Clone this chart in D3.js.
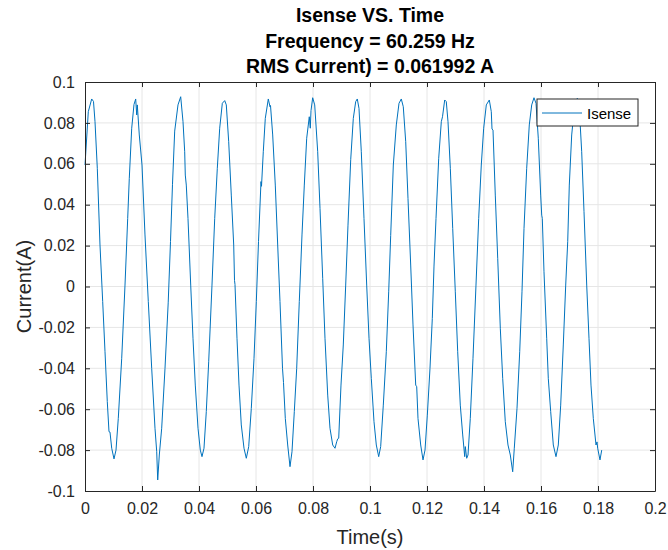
<!DOCTYPE html>
<html>
<head>
<meta charset="utf-8">
<script src="https://cdn.jsdelivr.net/npm/d3@7"></script>
<style>
  body { margin: 0; background: #fff; }
  svg { font-family: "Liberation Sans", Arial, Helvetica, sans-serif; }
</style>
</head>
<body>
<svg id="chart" width="668" height="550"></svg>
<script>
// samples
const timeS = [
  0, 0.00116, 0.00235, 0.00298, 0.00351, 0.00432, 0.00526, 0.00621, 0.00702, 0.00782,
  0.00842, 0.00877, 0.00937, 0.01018, 0.01088, 0.01168, 0.01288, 0.01404, 0.01498, 0.01554,
  0.01639, 0.01719, 0.01779, 0.01814, 0.01835, 0.01905, 0.02000, 0.02105, 0.02221, 0.02340,
  0.02456, 0.02516, 0.02551, 0.02607, 0.02691, 0.02807, 0.02919, 0.03000, 0.03070, 0.03147,
  0.03263, 0.03358, 0.03439, 0.03498, 0.03519, 0.03554, 0.03614, 0.03709, 0.03789, 0.03870,
  0.03965, 0.04046, 0.04105, 0.04175, 0.04256, 0.04340, 0.04456, 0.04551, 0.04642, 0.04726,
  0.04818, 0.04902, 0.04958, 0.05042, 0.05133, 0.05218, 0.05246, 0.05263, 0.05333, 0.05404,
  0.05484, 0.05579, 0.05660, 0.05744, 0.05835, 0.05930, 0.06011, 0.06088, 0.06175, 0.06193,
  0.06256, 0.06326, 0.06432, 0.06491, 0.06509, 0.06586, 0.06677, 0.06761, 0.06842, 0.06930,
  0.06965, 0.07028, 0.07112, 0.07193, 0.07263, 0.07344, 0.07428, 0.07519, 0.07614, 0.07695,
  0.07779, 0.07870, 0.07905, 0.07930, 0.07989, 0.08060, 0.08165, 0.08246, 0.08340, 0.08421,
  0.08516, 0.08596, 0.08691, 0.08772, 0.08832, 0.08867, 0.08902, 0.08982, 0.09063, 0.09147,
  0.09228, 0.09323, 0.09414, 0.09498, 0.09554, 0.09614, 0.09695, 0.09789, 0.09884, 0.09965,
  0.10046, 0.10140, 0.10221, 0.10305, 0.10375, 0.10467, 0.10572, 0.10656, 0.10726, 0.10818,
  0.10923, 0.11018, 0.11098, 0.11168, 0.11253, 0.11333, 0.11428, 0.11509, 0.11604, 0.11639,
  0.11684, 0.11779, 0.11860, 0.11930, 0.12011, 0.12105, 0.12186, 0.12246, 0.12316, 0.12411,
  0.12502, 0.12544, 0.12621, 0.12677, 0.12737, 0.12818, 0.12902, 0.12993, 0.13077, 0.13168,
  0.13253, 0.13323, 0.13344, 0.13393, 0.13439, 0.13519, 0.13614, 0.13719, 0.13814, 0.13905,
  0.13989, 0.14081, 0.14186, 0.14256, 0.14281, 0.14316, 0.14396, 0.14481, 0.14572, 0.14656,
  0.14747, 0.14842, 0.14923, 0.15007, 0.15063, 0.15158, 0.15253, 0.15333, 0.15404, 0.15498,
  0.15589, 0.15674, 0.15754, 0.15825, 0.15905, 0.15989, 0.16025, 0.16046, 0.16105, 0.16200,
  0.16256, 0.16340, 0.16432, 0.16526, 0.16607, 0.16691, 0.16782, 0.16867, 0.16937, 0.16993,
  0.17077, 0.17168, 0.17274, 0.17344, 0.17428, 0.17509, 0.17604, 0.17684, 0.17754, 0.17835,
  0.17930, 0.17965, 0.17989, 0.18070, 0.18130
];
const currentA = [
  0.0594, 0.0855, 0.0917, 0.0905, 0.0806, 0.0578, 0.0203, -0.0074, -0.0319, -0.0563,
  -0.0710, -0.0712, -0.0791, -0.0843, -0.0800, -0.0645, -0.0351, 0.0007, 0.0333, 0.0529,
  0.0774, 0.0890, 0.0917, 0.0839, 0.0888, 0.0741, 0.0594, 0.0252, -0.0074, -0.0400,
  -0.0693, -0.0808, -0.0946, -0.0824, -0.0693, -0.0400, -0.0080, 0.0220, 0.0500, 0.0760,
  0.0888, 0.0928, 0.0806, 0.0659, 0.0545, 0.0496, 0.0333, 0.0007, -0.0253, -0.0482,
  -0.0693, -0.0800, -0.0832, -0.0791, -0.0612, -0.0368, 0.0007, 0.0333, 0.0578, 0.0774,
  0.0896, 0.0909, 0.0888, 0.0708, 0.0447, 0.0203, 0.0030, 0.0010, -0.0253, -0.0482,
  -0.0677, -0.0791, -0.0840, -0.0783, -0.0596, -0.0351, -0.0074, 0.0220, 0.0513, 0.0490,
  0.0659, 0.0822, 0.0917, 0.0879, 0.0885, 0.0741, 0.0496, 0.0203, -0.0074, -0.0400,
  -0.0470, -0.0645, -0.0775, -0.0881, -0.0808, -0.0612, -0.0400, -0.0074, 0.0252, 0.0496,
  0.0725, 0.0830, 0.0774, 0.0860, 0.0923, 0.0888, 0.0659, 0.0382, 0.0040, -0.0253,
  -0.0531, -0.0693, -0.0775, -0.0791, -0.0759, -0.0745, -0.0742, -0.0482, -0.0286, 0.0007,
  0.0300, 0.0620, 0.0822, 0.0904, 0.0917, 0.0871, 0.0659, 0.0333, 0.0007, -0.0253,
  -0.0449, -0.0661, -0.0775, -0.0832, -0.0783, -0.0580, -0.0319, -0.0026, 0.0250, 0.0594,
  0.0790, 0.0896, 0.0917, 0.0879, 0.0708, 0.0431, 0.0105, -0.0188, -0.0482, -0.0490,
  -0.0645, -0.0775, -0.0848, -0.0800, -0.0629, -0.0400, -0.0156, 0.0100, 0.0333, 0.0627,
  0.0806, 0.0830, 0.0912, 0.0904, 0.0806, 0.0578, 0.0284, -0.0026, -0.0319, -0.0580,
  -0.0726, -0.0832, -0.0783, -0.0840, -0.0824, -0.0645, -0.0351, 0.0007, 0.0333, 0.0594,
  0.0774, 0.0888, 0.0912, 0.0855, 0.0770, 0.0765, 0.0447, 0.0138, -0.0204, -0.0449,
  -0.0661, -0.0775, -0.0824, -0.0906, -0.0791, -0.0596, -0.0319, -0.0026, 0.0284, 0.0578,
  0.0790, 0.0888, 0.0923, 0.0896, 0.0725, 0.0447, 0.0349, 0.0333, 0.0072, -0.0253,
  -0.0449, -0.0612, -0.0775, -0.0832, -0.0775, -0.0580, -0.0286, 0.0007, 0.0219, 0.0496,
  0.0741, 0.0871, 0.0920, 0.0871, 0.0659, 0.0366, 0.0007, -0.0253, -0.0482, -0.0645,
  -0.0775, -0.0760, -0.0791, -0.0848, -0.0800
];
const xTicks = [0, 0.02, 0.04, 0.06, 0.08, 0.1, 0.12, 0.14, 0.16, 0.18, 0.2];
const yTicks = [-0.1, -0.08, -0.06, -0.04, -0.02, 0, 0.02, 0.04, 0.06, 0.08, 0.1];
const titleLines = ['Isense VS. Time', 'Frequency = 60.259 Hz', 'RMS Current) = 0.061992 A'];
const seriesName = 'Isense';

const svg = d3.select('#chart');
const plotL = 85, plotR = 655, plotT = 82, plotB = 491;
const axisColor = '#262626';
const lineColor = '#0072BD';

const x = d3.scaleLinear().domain([0, 0.2]).range([plotL, plotR]);
const y = d3.scaleLinear().domain([-0.1, 0.1]).range([plotB, plotT]);

// grid
svg.append('g').selectAll('line').data(xTicks.slice(1, -1)).join('line')
  .attr('x1', d => x(d)).attr('x2', d => x(d))
  .attr('y1', plotT).attr('y2', plotB)
  .attr('stroke', '#e6e6e6').attr('stroke-width', 1);
svg.append('g').selectAll('line').data(yTicks.slice(1, -1)).join('line')
  .attr('x1', plotL).attr('x2', plotR)
  .attr('y1', d => y(d)).attr('y2', d => y(d))
  .attr('stroke', '#e6e6e6').attr('stroke-width', 1);

// trace
const points = timeS.map((t, i) => [t, currentA[i]]);
svg.append('path')
  .datum(points)
  .attr('fill', 'none')
  .attr('stroke', lineColor)
  .attr('stroke-width', 1)
  .attr('stroke-linejoin', 'round')
  .attr('d', d3.line().x(d => x(d[0])).y(d => y(d[1])));

// axes with inward ticks, box on
const fmt = d => String(+d.toFixed(2));
function styleAxis(g) {
  g.select('.domain').attr('stroke', axisColor);
  g.selectAll('.tick line').attr('stroke', axisColor);
  g.selectAll('text').attr('fill', axisColor).attr('font-size', 16).attr('font-family', null);
}
svg.append('g')
  .attr('transform', `translate(0,${plotB})`)
  .call(d3.axisBottom(x).tickValues(xTicks).tickFormat(fmt).tickSizeInner(-5).tickSizeOuter(0).tickPadding(12))
  .call(styleAxis);
svg.append('g')
  .attr('transform', `translate(${plotL},0)`)
  .call(d3.axisLeft(y).tickValues(yTicks).tickFormat(fmt).tickSizeInner(-5).tickSizeOuter(0).tickPadding(10))
  .call(styleAxis);
svg.append('g')
  .attr('transform', `translate(0,${plotT})`)
  .call(d3.axisTop(x).tickValues(xTicks).tickFormat('').tickSizeInner(-5).tickSizeOuter(0))
  .call(styleAxis);
svg.append('g')
  .attr('transform', `translate(${plotR},0)`)
  .call(d3.axisRight(y).tickValues(yTicks).tickFormat('').tickSizeInner(-5).tickSizeOuter(0))
  .call(styleAxis);

// labels
svg.append('text')
  .attr('x', (plotL + plotR) / 2).attr('y', 544)
  .attr('text-anchor', 'middle').attr('font-size', 20).attr('fill', axisColor)
  .text('Time(s)');
svg.append('text')
  .attr('transform', `translate(31,${(plotT + plotB) / 2}) rotate(-90)`)
  .attr('text-anchor', 'middle').attr('font-size', 20).attr('fill', axisColor)
  .text('Current(A)');

// title
svg.append('g').selectAll('text').data(titleLines).join('text')
  .attr('x', (plotL + plotR) / 2)
  .attr('y', (d, i) => 22 + i * 25.5)
  .attr('text-anchor', 'middle')
  .attr('font-size', 19.5).attr('font-weight', 'bold').attr('fill', '#000')
  .text(d => d);

// legend
const legend = svg.append('g').attr('transform', 'translate(537,99)');
legend.append('rect')
  .attr('width', 101).attr('height', 27)
  .attr('fill', '#fff').attr('stroke', axisColor).attr('stroke-width', 1);
legend.append('line')
  .attr('x1', 5).attr('x2', 45).attr('y1', 14).attr('y2', 14)
  .attr('stroke', lineColor).attr('stroke-width', 1);
legend.append('text')
  .attr('x', 50).attr('y', 19.5)
  .attr('font-size', 15).attr('fill', '#000')
  .text(seriesName);
</script>
</body>
</html>
